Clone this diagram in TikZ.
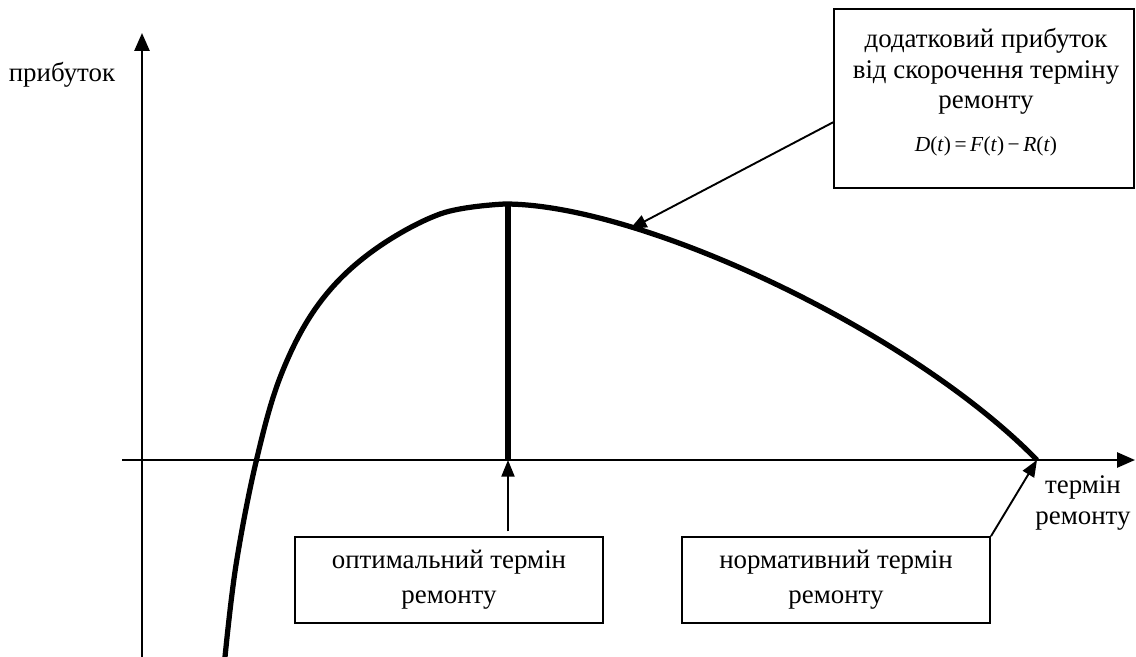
\documentclass[tikz,border=0pt]{standalone}
\usepackage{fontspec}
\setmainfont{Liberation Serif}
\usetikzlibrary{arrows.meta}

\tikzset{
  axis/.style={line width=1pt, -{Triangle[width=6.3pt,length=7.5pt]}},
  curve/.style={line width=2.2pt},
  pointer/.style={line width=0.8pt, -{Triangle[width=5.5pt,length=7pt]}},
  infobox/.style={draw, line width=0.8pt, minimum width=129.4pt, minimum height=36pt,
    align=center, inner sep=0pt, font=\fontsize{11.3}{14.7}\selectfont},
  txt/.style={align=center, inner sep=0pt, font=\fontsize{11.3}{13}\selectfont},
}

\begin{document}
\begin{tikzpicture}[x=0.42pt, y=-0.42pt]
    \useasboundingbox (0,0) rectangle (1136,657);
    % axes
    \coordinate (xstart) at (122,460);
    \coordinate (xend) at (1135,460);
    \coordinate (ystart) at (142,657);
    \coordinate (yend) at (142,33);
    \draw[axis] (xstart) -- (xend);
    \draw[axis] (ystart) -- (yend);
    \node[txt] (ylabel) at (62,75) {прибуток};
    \node[txt] (xlabel) at (1083,503) {термін\\ремонту};
    % profit curve
    \coordinate (peak) at (508,204);
    \coordinate (opt) at (508,460);
    \coordinate (norm) at (1037,460);
    \coordinate (dpt) at (630,229);
    \draw[curve, line join=round] plot[smooth, tension=0.6] coordinates {(225,657) (236,565) (256,462)
      (281,375) (318,305) (370,253) (440,214) (505,204)}
      .. controls (640,204) and (910,330) .. (norm);
    \draw[curve] (peak) -- (opt);
    % boxes
    \node[infobox] (optbox) at (449,580) {оптимальний термін\\ремонту};
    \node[infobox] (normbox) at (836,580) {нормативний термін\\ремонту};
    \node[draw, line width=0.8pt, minimum width=126pt, minimum height=75.2pt] (gainbox) at (984,98.5) {};
    \node[txt, anchor=north, font=\fontsize{11.3}{12.8}\selectfont] (gaintext) at (986,28)
      {додатковий прибуток\\від скорочення терміну\\ремонту\\[5pt]
       {\fontsize{9}{10}\selectfont\textit{D}(\textit{t})\,=\,\textit{F}(\textit{t})\,−\,\textit{R}(\textit{t})}};
    % pointers
    \draw[pointer, shorten <=2pt] (optbox.north -| opt) -- (opt);
    \draw[pointer] (normbox.north east) -- (norm);
    \draw[pointer] ([yshift=-10pt]gainbox.west) -- (dpt);
\end{tikzpicture}
\end{document}
